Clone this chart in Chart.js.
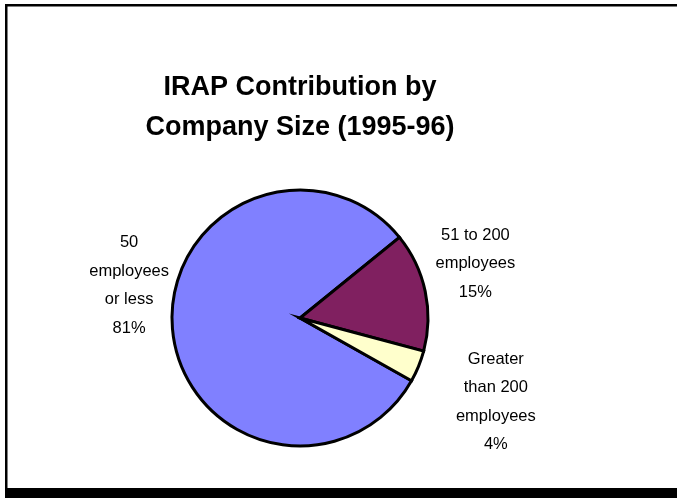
<!DOCTYPE html>
<html>
<head>
<meta charset="utf-8">
<script src="https://cdn.jsdelivr.net/npm/chart.js@4/dist/chart.umd.min.js"></script>
<style>
  html, body { margin: 0; padding: 0; background: #ffffff; }
  #wrap { width: 677px; height: 498px; position: relative; }
</style>
</head>
<body>
<div id="wrap"><canvas id="c" width="677" height="498"></canvas></div>
<script>
// ---- data ----
const categories = ["50 employees or less", "51 to 200 employees", "Greater than 200 employees"];
const labelLines = [["50", "employees", "or less"], ["51 to 200", "employees"], ["Greater", "than 200", "employees"]];
const shares = [81, 15, 4];
const titleLines = ["IRAP Contribution by", "Company Size (1995-96)"];

// ---- styles ----
const sliceColors = ["#8080FF", "#802060", "#FFFFCC"];
// label block centre, as multiples of the pie radius from the pie centre
const labelOffsets = [[-1.335, -0.255], [1.37, -0.425], [1.53, 0.655]];

const framePlugin = {
  id: "frame",
  beforeDraw(chart) {
    const ctx = chart.ctx;
    const W = chart.width, H = chart.height;
    ctx.save();
    ctx.fillStyle = "#ffffff";
    ctx.fillRect(0, 0, W, H);
    ctx.fillStyle = "#000000";
    ctx.fillRect(5, 4, W - 5, 2.5);
    ctx.fillRect(5, 4, 2.5, H - 4);
    ctx.fillRect(5, 488, W - 5, H - 488);
    ctx.restore();
  }
};

const labelPlugin = {
  id: "sliceLabels",
  afterDatasetsDraw(chart) {
    const ctx = chart.ctx;
    const meta = chart.getDatasetMeta(0);
    const vals = chart.data.datasets[0].data;
    const total = vals.reduce((a, b) => a + b, 0);
    const lh = 28.5;
    ctx.save();
    ctx.fillStyle = "#000000";
    ctx.font = "16.5px 'Liberation Sans', Arial, sans-serif";
    ctx.textAlign = "center";
    ctx.textBaseline = "middle";
    meta.data.forEach((arc, i) => {
      const r = arc.outerRadius;
      const cx = arc.x + labelOffsets[i][0] * r;
      const cy = arc.y + labelOffsets[i][1] * r;
      const lines = labelLines[i].concat([Math.round(vals[i] / total * 100) + "%"]);
      const y0 = cy - (lines.length - 1) * lh / 2;
      lines.forEach((t, k) => ctx.fillText(t, cx, y0 + k * lh));
    });
    ctx.restore();
  }
};

new Chart(document.getElementById("c"), {
  type: "pie",
  data: {
    labels: categories,
    datasets: [{
      data: shares,
      backgroundColor: sliceColors,
      borderColor: "#000000",
      borderWidth: 3,
      borderJoinStyle: "miter"
    }]
  },
  options: {
    responsive: false,
    animation: false,
    devicePixelRatio: 1,
    rotation: 119.4,
    radius: 128,
    layout: { padding: { left: 20, right: 97, top: 68, bottom: 51 } },
    plugins: {
      legend: { display: false },
      tooltip: { enabled: false },
      title: {
        display: true,
        text: titleLines,
        color: "#000000",
        font: { family: "'Liberation Sans', Arial, sans-serif", size: 27, weight: "bold", lineHeight: 1.48 },
        padding: { top: 0, bottom: 41 }
      }
    }
  },
  plugins: [framePlugin, labelPlugin]
});
</script>
</body>
</html>
